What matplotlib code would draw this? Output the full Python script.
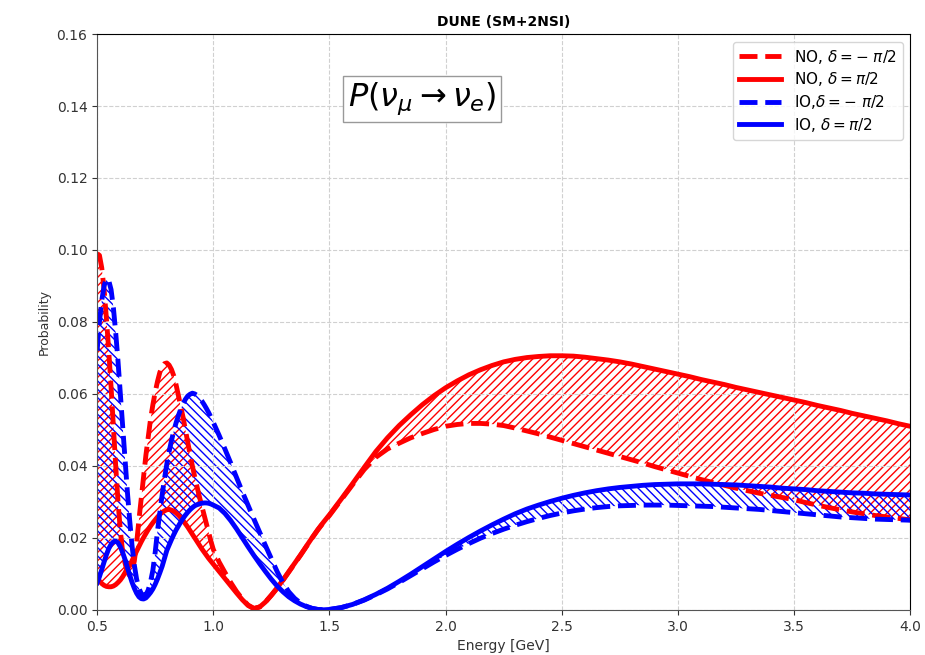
import numpy as np
from matplotlib import pyplot as plt

# energy grid [GeV]: fine below 1 GeV, coarser above
energy = np.round(np.concatenate([np.arange(0.50, 1.0001, 0.01),
                                  np.arange(1.025, 1.5001, 0.025),
                                  np.arange(1.55, 4.0001, 0.05)]), 3)

# NO, delta = -pi/2 (red dashed)
no_dm = [
    0.0990, 0.0985, 0.0950, 0.0890, 0.0810, 0.0720, 0.0620, 0.0510, 0.0400, 0.0300,
    0.0220, 0.0160, 0.0130, 0.0105, 0.0095, 0.0105, 0.0135, 0.0185, 0.0250, 0.0310,
    0.0370, 0.0430, 0.0480, 0.0530, 0.0570, 0.0605, 0.0635, 0.0660, 0.0675, 0.0684,
    0.0686, 0.0680, 0.0668, 0.0650, 0.0625, 0.0595, 0.0565, 0.0535, 0.0500, 0.0466,
    0.0432, 0.0400, 0.0370, 0.0342, 0.0315, 0.0290, 0.0265, 0.0240, 0.0215, 0.0190,
    0.0168,
    0.0133, 0.0104, 0.0076, 0.0051, 0.0030, 0.0013, 0.0004, 0.0008, 0.0022, 0.0040,
    0.0060, 0.0082, 0.0105, 0.0128, 0.0151, 0.0175, 0.0199, 0.0222, 0.0243, 0.0262,
    0.0305, 0.0348, 0.0390, 0.0424, 0.0447, 0.0463, 0.0478, 0.0490, 0.0501, 0.0510,
    0.0515, 0.0518, 0.0518, 0.0516, 0.0512, 0.0505, 0.0497, 0.0489, 0.0480, 0.0471,
    0.0462, 0.0453, 0.0444, 0.0435, 0.0426, 0.0417, 0.0408, 0.0398, 0.0389, 0.0380,
    0.0371, 0.0362, 0.0354, 0.0346, 0.0338, 0.0331, 0.0324, 0.0318, 0.0312, 0.0306,
    0.0298, 0.0291, 0.0284, 0.0278, 0.0272, 0.0267, 0.0262, 0.0258, 0.0254, 0.0250,
]

# NO, delta = pi/2 (red solid)
no_dp = [
    0.0090, 0.0080, 0.0073, 0.0068, 0.0065, 0.0064, 0.0064, 0.0066, 0.0070, 0.0076,
    0.0083, 0.0092, 0.0103, 0.0115, 0.0123, 0.0136, 0.0150, 0.0163, 0.0176, 0.0189,
    0.0201, 0.0212, 0.0223, 0.0233, 0.0242, 0.0250, 0.0258, 0.0265, 0.0271, 0.0275,
    0.0278, 0.0279, 0.0277, 0.0274, 0.0269, 0.0263, 0.0256, 0.0248, 0.0239, 0.0230,
    0.0220, 0.0210, 0.0200, 0.0190, 0.0180, 0.0170, 0.0161, 0.0152, 0.0143, 0.0135,
    0.0127,
    0.0107, 0.0087, 0.0067, 0.0047, 0.0028, 0.0012, 0.0003, 0.0008, 0.0022, 0.0041,
    0.0061, 0.0083, 0.0106, 0.0129, 0.0152, 0.0176, 0.0200, 0.0223, 0.0244, 0.0264,
    0.0307, 0.0351, 0.0396, 0.0440, 0.0478, 0.0512, 0.0542, 0.0570, 0.0595, 0.0617,
    0.0636, 0.0653, 0.0667, 0.0679, 0.0689, 0.0696, 0.0701, 0.0704, 0.0706, 0.0706,
    0.0705, 0.0702, 0.0698, 0.0694, 0.0689, 0.0683, 0.0676, 0.0669, 0.0662, 0.0655,
    0.0648, 0.0640, 0.0633, 0.0626, 0.0618, 0.0611, 0.0604, 0.0597, 0.0590, 0.0583,
    0.0576, 0.0568, 0.0561, 0.0554, 0.0546, 0.0539, 0.0532, 0.0525, 0.0517, 0.0510,
]

# IO, delta = -pi/2 (blue dashed)
io_dm = [
    0.0720, 0.0800, 0.0860, 0.0900, 0.0920, 0.0915, 0.0890, 0.0840, 0.0770, 0.0690,
    0.0600, 0.0510, 0.0420, 0.0330, 0.0250, 0.0180, 0.0125, 0.0085, 0.0060, 0.0045,
    0.0040, 0.0042, 0.0055, 0.0078, 0.0110, 0.0160, 0.0220, 0.0270, 0.0320, 0.0365,
    0.0405, 0.0440, 0.0470, 0.0497, 0.0520, 0.0540, 0.0558, 0.0573, 0.0585, 0.0594,
    0.0599, 0.0602, 0.0600, 0.0596, 0.0589, 0.0581, 0.0571, 0.0560, 0.0548, 0.0535,
    0.0521,
    0.0485, 0.0447, 0.0408, 0.0368, 0.0328, 0.0290, 0.0252, 0.0215, 0.0178, 0.0142,
    0.0106, 0.0075, 0.0050, 0.0032, 0.0019, 0.0010, 0.0004, 0.0001, 0.0000, 0.0001,
    0.0006, 0.0015, 0.0027, 0.0042, 0.0058, 0.0076, 0.0095, 0.0114, 0.0133, 0.0151,
    0.0168, 0.0184, 0.0199, 0.0212, 0.0224, 0.0235, 0.0245, 0.0254, 0.0262, 0.0269,
    0.0275, 0.0280, 0.0284, 0.0287, 0.0289, 0.0290, 0.0291, 0.0291, 0.0291, 0.0290,
    0.0289, 0.0288, 0.0287, 0.0285, 0.0283, 0.0281, 0.0279, 0.0276, 0.0273, 0.0270,
    0.0267, 0.0264, 0.0261, 0.0258, 0.0256, 0.0254, 0.0252, 0.0251, 0.0250, 0.0249,
]

# IO, delta = pi/2 (blue solid)
io_dp = [
    0.0075, 0.0092, 0.0112, 0.0133, 0.0153, 0.0170, 0.0182, 0.0189, 0.0191, 0.0186,
    0.0175, 0.0159, 0.0140, 0.0118, 0.0097, 0.0077, 0.0060, 0.0046, 0.0036, 0.0031,
    0.0030, 0.0033, 0.0040, 0.0048, 0.0058, 0.0071, 0.0086, 0.0103, 0.0121, 0.0143,
    0.0165, 0.0180, 0.0195, 0.0209, 0.0222, 0.0233, 0.0244, 0.0254, 0.0263, 0.0271,
    0.0278, 0.0284, 0.0289, 0.0292, 0.0294, 0.0296, 0.0297, 0.0297, 0.0296, 0.0294,
    0.0291,
    0.0283, 0.0268, 0.0248, 0.0225, 0.0200, 0.0175, 0.0151, 0.0128, 0.0106, 0.0085,
    0.0066, 0.0050, 0.0036, 0.0025, 0.0016, 0.0009, 0.0004, 0.0001, 0.0000, 0.0001,
    0.0006, 0.0015, 0.0028, 0.0043, 0.0060, 0.0079, 0.0099, 0.0120, 0.0141, 0.0162,
    0.0182, 0.0201, 0.0219, 0.0236, 0.0252, 0.0267, 0.0280, 0.0291, 0.0301, 0.0310,
    0.0318, 0.0325, 0.0331, 0.0336, 0.0340, 0.0343, 0.0346, 0.0348, 0.0349, 0.0350,
    0.0350, 0.0350, 0.0349, 0.0348, 0.0347, 0.0345, 0.0343, 0.0341, 0.0338, 0.0336,
    0.0334, 0.0331, 0.0329, 0.0327, 0.0325, 0.0324, 0.0322, 0.0321, 0.0320, 0.0319,
]

x_ticks = [0.5, 1.0, 1.5, 2.0, 2.5, 3.0, 3.5, 4.0]
y_ticks = [0.00, 0.02, 0.04, 0.06, 0.08, 0.10, 0.12, 0.14, 0.16]


def main():
    fig = plt.figure(figsize=(9.25, 6.55), dpi=100)
    ax = fig.add_axes([0.105, 0.069, 0.879, 0.879])

    ax.fill_between(energy, no_dm, no_dp, facecolor="none", edgecolor="red",
                    hatch="////", linewidth=0)
    ax.fill_between(energy, io_dm, io_dp, facecolor="none", edgecolor="blue",
                    hatch="\\\\\\\\", linewidth=0)

    ax.plot(energy, no_dm, "r--", lw=3.5, label=r"NO, $\delta = -\ \pi/2$")
    ax.plot(energy, no_dp, "r-", lw=3.5, label=r"NO, $\delta = \pi/2$")
    ax.plot(energy, io_dm, "b--", lw=3.5, label=r"IO,$\delta = -\ \pi/2$")
    ax.plot(energy, io_dp, "b-", lw=3.5, label=r"IO, $\delta = \pi/2$")

    ax.set_xlim(0.5, 4.0)
    ax.set_ylim(0.0, 0.16)
    ax.set_xticks(x_ticks)
    ax.set_yticks(y_ticks)
    ax.tick_params(labelsize=10, colors="#333333")
    ax.grid(True, linestyle="--", color="#d0d0d0", lw=0.8)
    for side in ["left", "bottom"]:
        ax.spines[side].set_color("#555555")

    ax.set_title("DUNE (SM+2NSI)", fontsize=10, fontweight="bold")
    ax.set_xlabel("Energy [GeV]", fontsize=10, color="#333333")
    ax.set_ylabel("Probability", fontsize=9, color="#333333")

    ax.text(1.9, 0.142, r"$P(\nu_\mu \rightarrow \nu_e)$", fontsize=23,
            ha="center", va="center",
            bbox=dict(boxstyle="square,pad=0.15", facecolor="white", edgecolor="#999999"))

    ax.legend(loc="upper right", fontsize=11, handlelength=2.8, labelspacing=0.3)

    plt.savefig("out.png", dpi=100)


if __name__ == "__main__":
    main()
